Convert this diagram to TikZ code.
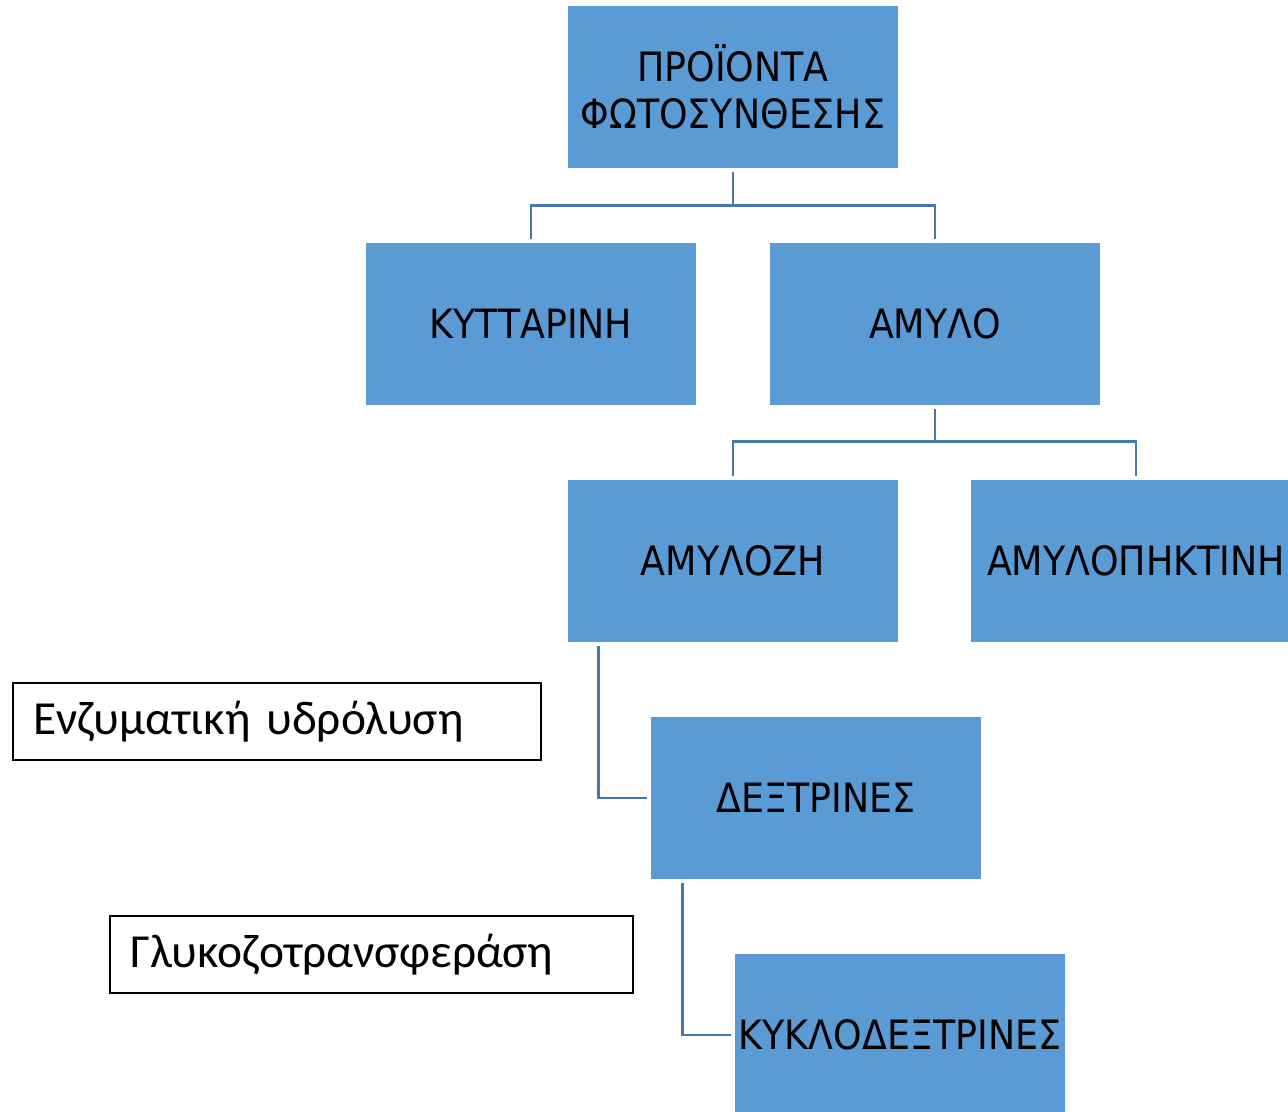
\documentclass[tikz,border=0pt]{standalone}
\usepackage{fontspec}
\usepackage{tikz}
\newfontfamily\boxfont[FakeStretch=0.9]{DejaVu Sans}
\newfontfamily\notefont{Carlito}
\definecolor{boxblue}{RGB}{91,155,213}
\definecolor{linkblue}{RGB}{70,120,175}

\begin{document}
\begin{tikzpicture}[x=0.02cm, y=-0.02cm,
    box/.style={rectangle, fill=boxblue, minimum width=6.6cm, minimum height=3.24cm, inner sep=0pt, align=center, font=\boxfont\fontsize{23pt}{27pt}\selectfont},
    note/.style={draw, rectangle, line width=1.1pt, minimum height=1.54cm, inner xsep=0.41cm, align=left, font=\notefont\fontsize{27pt}{32pt}\selectfont},
    link/.style={draw=linkblue, line width=1.4pt, shorten <=2.3pt, shorten >=2.3pt}]
        \useasboundingbox (0,0) rectangle (1288,1112);
        \node[box] (proionta) at (733,87) {ΠΡΟΪΟΝΤΑ\\ΦΩΤΟΣΥΝΘΕΣΗΣ};
        \node[box] (kyttarini) at (531,324) {ΚΥΤΤΑΡΙΝΗ};
        \node[box] (amylo) at (935,324) {ΑΜΥΛΟ};
        \node[box] (amylozi) at (733,561) {ΑΜΥΛΟΖΗ};
        \node[box] (amylopiktini) at (1136,561) {ΑΜΥΛΟΠΗΚΤΙΝΗ};
        \node[box] (dextrines) at (816,798) {ΔΕΞΤΡΙΝΕΣ};
        \node[box] (kyklodextrines) at (900,1035) {ΚΥΚΛΟΔΕΞΤΡΙΝΕΣ};
        \node[note, text width=9.74cm] (ydrolysi) at (277,721.5) {Ενζυματική υδρόλυση};
        \node[note, text width=9.64cm] (glykozo) at (371.5,954.5) {Γλυκοζοτρανσφεράση};
        \draw[link] (proionta.south) -- ++(0,37) -| (kyttarini.north);
        \draw[link] (proionta.south) -- ++(0,37) -| (amylo.north);
        \draw[link] (amylo.south) -- ++(0,36) -| (amylozi.north);
        \draw[link] (amylo.south) -- ++(0,36) -| (amylopiktini.north);
        \draw[link] ([xshift=0.62cm]amylozi.south west) |- (dextrines.west);
        \draw[link] ([xshift=0.64cm]dextrines.south west) |- (kyklodextrines.west);
    \end{tikzpicture}
\end{document}
